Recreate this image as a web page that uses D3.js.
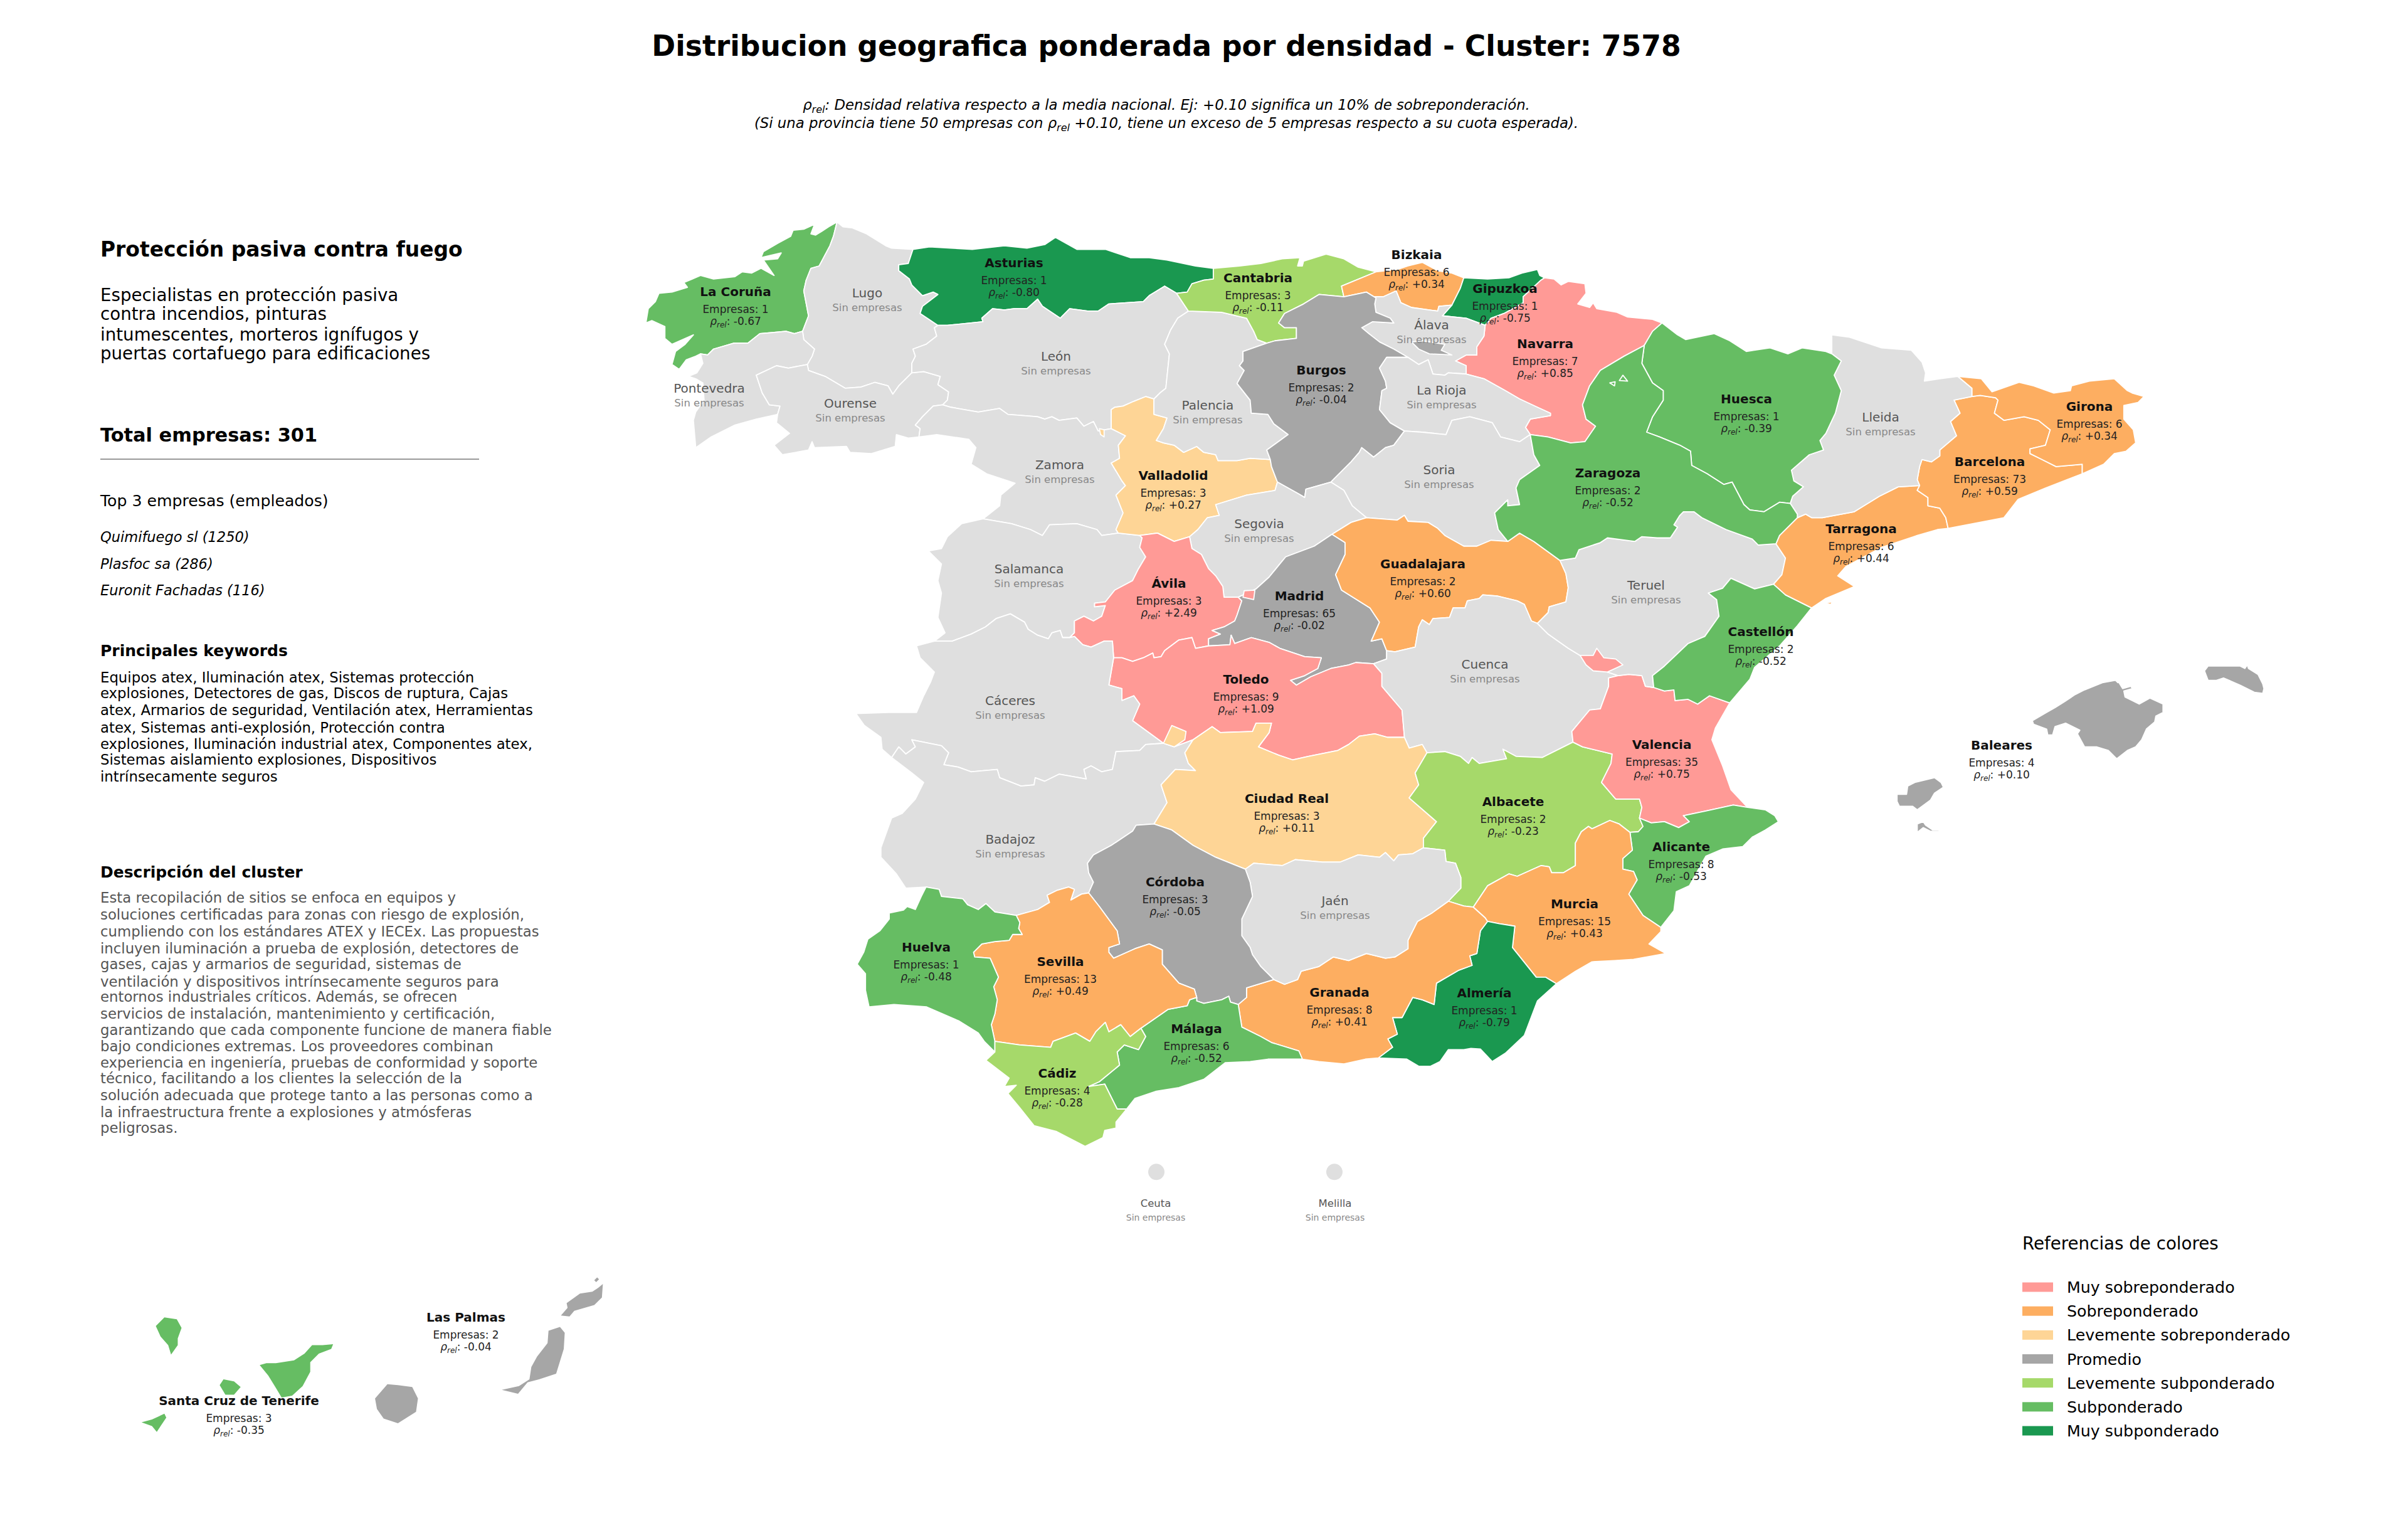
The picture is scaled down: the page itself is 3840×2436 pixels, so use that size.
<!DOCTYPE html>
<html>
<head>
<meta charset="utf-8">
<script src="https://cdn.jsdelivr.net/npm/d3@7"></script>
<style>
  body { margin: 0; background: #fff; }
  text { font-family: "DejaVu Sans", sans-serif; }
</style>
</head>
<body>
<svg id="chart" width="3840" height="2436"></svg>
<script>
// Province table
const provinces = ["La Coruña","Lugo","Pontevedra","Ourense","Asturias","León","Zamora","Salamanca","Valladolid","Palencia","Cantabria","Bizkaia","Gipuzkoa","Navarra","Álava","Burgos","La Rioja","Soria","Segovia","Ávila","Madrid","Toledo","Guadalajara","Cuenca","Cáceres","Badajoz","Ciudad Real","Albacete","Valencia","Teruel","Castellón","Tarragona","Barcelona","Girona","Lleida","Huesca","Zaragoza","Alicante","Murcia","Almería","Granada","Jaén","Córdoba","Málaga","Sevilla","Huelva","Cádiz","Baleares","Las Palmas","Santa Cruz de Tenerife","Ceuta","Melilla"];
const empresas = [1,null,null,null,1,null,null,null,3,null,3,6,1,7,null,2,null,null,null,3,65,9,2,null,null,null,3,2,35,null,2,6,73,6,null,1,2,8,15,1,8,null,3,6,13,1,4,4,2,3,null,null];
const rhoRel = [-0.67,null,null,null,-0.80,null,null,null,0.27,null,-0.11,0.34,-0.75,0.85,null,-0.04,null,null,null,2.49,-0.02,1.09,0.60,null,null,null,0.11,-0.23,0.75,null,-0.52,0.44,0.59,0.34,null,-0.39,-0.52,-0.53,0.43,-0.79,0.41,null,-0.05,-0.52,0.49,-0.48,-0.28,0.10,-0.04,-0.35,null,null];

// Legend
const legendLabels = ["Muy sobreponderado","Sobreponderado","Levemente sobreponderado","Promedio","Levemente subponderado","Subponderado","Muy subponderado"];
const legendColors = ["#ff9a96","#fdae61","#fed596","#a6a6a6","#a6d96a","#66bd63","#1a9850"];
const rhoBreaks = [-0.7,-0.3,-0.1,0.105,0.3,0.7];

// Side panel text
const topCompanies = ["Quimifuego sl (1250)","Plasfoc sa (286)","Euronit Fachadas (116)"];
const blurbLines = ["Especialistas en protección pasiva","contra incendios, pinturas","intumescentes, morteros ignífugos y","puertas cortafuego para edificaciones"];
const keywordLines = ["Equipos atex, Iluminación atex, Sistemas protección","explosiones, Detectores de gas, Discos de ruptura, Cajas","atex, Armarios de seguridad, Ventilación atex, Herramientas","atex, Sistemas anti-explosión, Protección contra","explosiones, Iluminación industrial atex, Componentes atex,","Sistemas aislamiento explosiones, Dispositivos","intrínsecamente seguros"];
const descriptionLines = ["Esta recopilación de sitios se enfoca en equipos y","soluciones certificadas para zonas con riesgo de explosión,","cumpliendo con los estándares ATEX y IECEx. Las propuestas","incluyen iluminación a prueba de explosión, detectores de","gases, cajas y armarios de seguridad, sistemas de","ventilación y dispositivos intrínsecamente seguros para","entornos industriales críticos. Además, se ofrecen","servicios de instalación, mantenimiento y certificación,","garantizando que cada componente funcione de manera fiable","bajo condiciones extremas. Los proveedores combinan","experiencia en ingeniería, pruebas de conformidad y soporte","técnico, facilitando a los clientes la selección de la","solución adecuada que protege tanto a las personas como a","la infraestructura frente a explosiones y atmósferas","peligrosas."];

// Shared province borders, lon/lat. Each one runs between two junctions.
const arcs = {
  coCoast: [[-7.69,43.79],[-7.76,43.75],[-7.82,43.71],[-7.87,43.68],[-7.91,43.69],[-7.88,43.77],[-7.97,43.73],[-8.06,43.72],[-8.08,43.67],[-8.19,43.61],[-8.31,43.54],[-8.33,43.49],[-8.16,43.53],[-8.19,43.48],[-8.31,43.47],[-8.22,43.34],[-8.33,43.40],[-8.41,43.36],[-8.49,43.37],[-8.55,43.33],[-8.73,43.31],[-8.84,43.34],[-8.91,43.31],[-8.98,43.28],[-8.95,43.24],[-9.08,43.20],[-9.19,43.19],[-9.22,43.12],[-9.28,43.06],[-9.30,42.94],[-9.25,42.96],[-9.14,42.91],[-9.14,42.81],[-9.08,42.76],[-8.90,42.84],[-8.97,42.76],[-9.05,42.70],[-9.08,42.59],[-9.02,42.55],[-8.96,42.63],[-8.88,42.66],[-8.84,42.68]],
  coPo: [[-8.84,42.68],[-8.78,42.67],[-8.73,42.72],[-8.56,42.77],[-8.44,42.77],[-8.34,42.85],[-8.22,42.86],[-8.12,42.87],[-8.05,42.85],[-7.98,42.87]],
  coLu: [[-7.98,42.87],[-7.93,43.00],[-7.97,43.21],[-7.95,43.30],[-7.91,43.40],[-7.84,43.42],[-7.75,43.59],[-7.72,43.67],[-7.69,43.79]],
  luCoast: [[-7.69,43.79],[-7.64,43.75],[-7.56,43.74],[-7.44,43.69],[-7.28,43.59],[-7.23,43.57],[-7.05,43.56]],
  luAs: [[-7.05,43.56],[-7.09,43.44],[-7.17,43.43],[-7.17,43.38],[-7.08,43.31],[-7.06,43.26],[-6.97,43.17],[-6.88,43.20],[-6.84,43.18],[-6.97,43.08],[-6.99,43.02],[-6.84,42.92]],
  luLe: [[-6.84,42.92],[-6.87,42.90],[-6.85,42.83],[-6.94,42.76],[-7.05,42.72],[-7.03,42.66],[-7.06,42.60],[-7.06,42.52]],
  luOu: [[-7.06,42.52],[-7.17,42.41],[-7.22,42.34],[-7.26,42.41],[-7.37,42.44],[-7.49,42.40],[-7.62,42.39],[-7.79,42.49],[-7.93,42.54],[-7.94,42.59]],
  luPo: [[-7.94,42.59],[-7.90,42.66],[-7.88,42.72],[-7.97,42.80],[-7.98,42.87]],
  poCoast: [[-8.84,42.68],[-8.82,42.60],[-8.87,42.52],[-8.94,42.49],[-8.88,42.47],[-8.82,42.435],[-8.81,42.29],[-8.88,42.19],[-8.90,42.12],[-8.88,41.89]],
  poSouth: [[-8.88,41.89],[-8.75,41.98],[-8.55,42.08],[-8.37,42.13],[-8.19,42.17]],
  poOu: [[-8.19,42.17],[-8.17,42.24],[-8.26,42.25],[-8.32,42.35],[-8.37,42.50],[-8.20,42.58],[-8.10,42.56],[-7.94,42.59]],
  ouSouth: [[-8.19,42.17],[-8.20,42.10],[-8.09,42.01],[-8.22,41.91],[-8.15,41.83],[-7.93,41.87],[-7.90,41.94],[-7.88,41.89],[-7.61,41.90],[-7.58,41.85],[-7.40,41.84],[-7.20,41.90],[-7.19,42.00],[-7.09,41.97],[-7.00,41.98]],
  ouLe: [[-7.06,42.52],[-6.96,42.53],[-6.82,42.49],[-6.84,42.42],[-6.75,42.36],[-6.76,42.29],[-6.80,42.25]],
  ouZa: [[-6.80,42.25],[-6.88,42.24],[-6.97,42.15],[-7.03,42.08],[-6.99,42.05],[-7.00,41.98]],
  asCoast: [[-7.05,43.56],[-6.91,43.58],[-6.73,43.57],[-6.55,43.56],[-6.28,43.59],[-6.09,43.57],[-5.94,43.60],[-5.85,43.66],[-5.76,43.61],[-5.67,43.56],[-5.43,43.56],[-5.34,43.53],[-5.22,43.49],[-5.06,43.49],[-4.91,43.47],[-4.67,43.42],[-4.52,43.40]],
  asCa: [[-4.52,43.40],[-4.52,43.31],[-4.60,43.30],[-4.70,43.27],[-4.74,43.20],[-4.83,43.19]],
  asLe: [[-6.84,42.92],[-6.76,42.92],[-6.46,42.95],[-6.47,42.98],[-6.38,43.06],[-6.28,43.05],[-6.20,43.06],[-6.09,43.06],[-6.00,43.14],[-5.96,43.08],[-5.81,42.98],[-5.73,43.06],[-5.58,43.04],[-5.49,43.04],[-5.40,43.10],[-5.11,43.12],[-5.06,43.17],[-4.93,43.25],[-4.83,43.19]],
  leCa: [[-4.83,43.19],[-4.73,43.04]],
  lePa: [[-4.73,43.04],[-4.82,42.98],[-4.88,42.88],[-4.93,42.76],[-4.89,42.68],[-4.92,42.39],[-4.97,42.35],[-5.02,42.30]],
  leVa: [[-5.02,42.30],[-5.09,42.32],[-5.19,42.28],[-5.28,42.24],[-5.35,42.23],[-5.38,42.21],[-5.38,42.05]],
  leZa: [[-6.80,42.25],[-6.73,42.23],[-6.50,42.19],[-6.32,42.22],[-6.25,42.17],[-6.00,42.15],[-5.94,42.13],[-5.88,42.15],[-5.82,42.12],[-5.67,42.14],[-5.61,42.07],[-5.53,42.11],[-5.49,42.03],[-5.38,42.05]],
  zaWest: [[-7.00,41.98],[-6.85,42.00],[-6.58,41.96],[-6.52,41.89],[-6.56,41.75],[-6.43,41.67],[-6.19,41.59],[-6.31,41.49],[-6.32,41.40],[-6.46,41.29]],
  zaSa: [[-6.46,41.29],[-6.22,41.25],[-6.06,41.20],[-5.96,41.15],[-5.90,41.24],[-5.67,41.25],[-5.50,41.20],[-5.46,41.15],[-5.32,41.17]],
  zaVa: [[-5.38,42.05],[-5.26,41.99],[-5.32,41.91],[-5.31,41.80],[-5.38,41.76],[-5.29,41.61],[-5.26,41.57],[-5.34,41.49],[-5.28,41.34],[-5.34,41.20],[-5.32,41.17]],
  saVa: [[-5.32,41.17],[-5.14,41.15]],
  saWest: [[-6.46,41.29],[-6.64,41.25],[-6.76,41.14],[-6.81,41.04],[-6.92,41.02],[-6.81,40.91],[-6.84,40.77],[-6.81,40.665],[-6.84,40.46],[-6.78,40.33],[-6.87,40.26]],
  saCc: [[-6.87,40.26],[-6.72,40.26],[-6.56,40.32],[-6.44,40.38],[-6.35,40.45],[-6.23,40.49],[-6.11,40.42],[-6.08,40.36],[-6.00,40.31],[-5.91,40.28],[-5.88,40.33],[-5.81,40.35],[-5.79,40.29],[-5.73,40.29]],
  saAv: [[-5.73,40.29],[-5.69,40.33],[-5.69,40.43],[-5.61,40.47],[-5.53,40.43],[-5.46,40.47],[-5.43,40.56],[-5.52,40.55],[-5.52,40.58],[-5.43,40.59],[-5.35,40.69],[-5.20,40.77],[-5.15,40.87],[-5.09,40.97],[-5.14,41.05],[-5.12,41.13],[-5.14,41.15]],
  avVa: [[-5.14,41.15],[-4.99,41.17],[-4.85,41.10],[-4.72,41.14]],
  vaPa: [[-5.02,42.30],[-5.02,42.17],[-4.91,42.14],[-4.94,42.05],[-5.00,41.95],[-4.94,41.93],[-4.85,41.91],[-4.77,41.85],[-4.66,41.90],[-4.60,41.85],[-4.50,41.83],[-4.48,41.78],[-4.32,41.78],[-4.21,41.80],[-4.04,41.79]],
  vaBu: [[-4.04,41.79],[-4.03,41.73],[-3.98,41.60]],
  vaSg: [[-3.98,41.60],[-4.00,41.53],[-4.24,41.49],[-4.50,41.41],[-4.47,41.32],[-4.57,41.30],[-4.65,41.20],[-4.72,41.14]],
  paBu: [[-4.07,42.77],[-4.27,42.70],[-4.27,42.62],[-4.30,42.58],[-4.26,42.54],[-4.32,42.43],[-4.21,42.29],[-4.20,42.18],[-4.06,42.17],[-4.01,42.09],[-3.89,42.00],[-4.07,41.87],[-4.04,41.79]],
  paCa: [[-4.73,43.04],[-4.45,43.03],[-4.24,42.98],[-4.18,42.87],[-4.15,42.80],[-4.07,42.77]],
  caCoast: [[-4.52,43.40],[-4.30,43.42],[-4.12,43.44],[-3.94,43.48],[-3.79,43.49],[-3.81,43.42],[-3.77,43.42],[-3.76,43.46],[-3.57,43.52],[-3.42,43.48],[-3.30,43.41],[-3.15,43.37]],
  caBi: [[-3.15,43.37],[-3.44,43.25],[-3.42,43.16]],
  caBu: [[-3.42,43.16],[-3.63,43.18],[-3.76,43.10],[-3.92,43.02],[-3.97,42.94],[-3.92,42.90],[-3.82,42.90],[-3.82,42.81],[-4.00,42.79],[-4.07,42.77]],
  biBu: [[-3.42,43.16],[-3.23,43.20]],
  biAl: [[-3.23,43.20],[-3.17,43.16],[-3.09,43.16],[-2.98,43.21],[-2.94,43.11],[-2.85,43.07],[-2.63,43.04],[-2.62,43.08],[-2.51,43.09]],
  biCoast: [[-3.15,43.37],[-2.97,43.39],[-2.88,43.42],[-2.76,43.45],[-2.63,43.38],[-2.51,43.36],[-2.41,43.32]],
  biGi: [[-2.41,43.32],[-2.44,43.23],[-2.51,43.09]],
  giCoast: [[-2.41,43.32],[-2.21,43.31],[-2.03,43.32],[-1.92,43.36],[-1.79,43.39],[-1.77,43.34],[-1.73,43.32]],
  giNa: [[-1.73,43.32],[-1.76,43.30],[-1.91,43.16],[-1.91,43.11],[-2.07,43.02],[-2.18,42.98],[-2.23,42.92]],
  giAl: [[-2.51,43.09],[-2.59,43.00],[-2.39,42.98],[-2.23,42.92]],
  naNorth: [[-1.73,43.32],[-1.65,43.31],[-1.59,43.26],[-1.53,43.29],[-1.39,43.27],[-1.38,43.19],[-1.45,43.10],[-1.35,43.07],[-1.32,43.11],[-1.29,43.06],[-1.12,43.03],[-1.03,42.99],[-0.82,42.97],[-0.74,42.94]],
  naAl: [[-2.23,42.92],[-2.24,42.83],[-2.30,42.74],[-2.30,42.67],[-2.39,42.67],[-2.48,42.62],[-2.39,42.58],[-2.39,42.51]],
  naRi: [[-2.39,42.51],[-2.24,42.47],[-2.06,42.37],[-1.94,42.30],[-1.79,42.23],[-1.68,42.18],[-1.68,42.16],[-1.85,42.13],[-1.89,42.06],[-1.85,42.00]],
  naZg: [[-1.85,42.00],[-1.70,41.98],[-1.51,41.93],[-1.39,41.94],[-1.30,42.07],[-1.38,42.13],[-1.41,42.25],[-1.35,42.41],[-1.26,42.54],[-1.06,42.66],[-0.89,42.75]],
  naHu: [[-0.89,42.75],[-0.82,42.87],[-0.74,42.94]],
  alBu: [[-3.23,43.20],[-3.15,43.15],[-3.16,43.10],[-3.15,43.03],[-3.03,42.98],[-3.00,42.94],[-3.18,42.95],[-3.27,42.90],[-3.21,42.85],[-3.12,42.78],[-3.00,42.72],[-2.88,42.65]],
  alRi: [[-2.88,42.65],[-2.79,42.59],[-2.71,42.63],[-2.67,42.51],[-2.57,42.50],[-2.54,42.52],[-2.39,42.51]],
  buRi: [[-2.91,42.03],[-3.03,42.10],[-3.12,42.21],[-3.10,42.37],[-3.06,42.39],[-3.07,42.45],[-3.12,42.56],[-3.06,42.65],[-2.88,42.65]],
  buSo: [[-3.53,41.60],[-3.36,41.77],[-3.29,41.85],[-3.27,41.89],[-3.17,41.81],[-3.07,41.89],[-3.00,41.91],[-2.91,42.03]],
  buSg: [[-3.98,41.60],[-3.80,41.50],[-3.75,41.47],[-3.74,41.54],[-3.53,41.60]],
  riSo: [[-2.91,42.03],[-2.76,42.02],[-2.56,42.00],[-2.51,42.12],[-2.36,42.15],[-2.17,42.10],[-2.10,41.98],[-1.94,41.94],[-1.85,42.00]],
  soZg: [[-1.85,42.00],[-1.82,41.83],[-1.77,41.74],[-1.94,41.62],[-1.97,41.55],[-1.94,41.41],[-2.04,41.40],[-2.04,41.45],[-2.15,41.34],[-2.12,41.20],[-2.04,41.10]],
  soGu: [[-2.04,41.10],[-2.18,41.11],[-2.30,41.06],[-2.41,41.06],[-2.57,41.15],[-2.63,41.21],[-2.71,41.26],[-2.88,41.27],[-2.91,41.32],[-2.97,41.28],[-3.23,41.30]],
  soSg: [[-3.23,41.30],[-3.35,41.40],[-3.42,41.53],[-3.53,41.60]],
  sgGu: [[-3.23,41.30],[-3.36,41.26],[-3.52,41.16]],
  sgMa: [[-3.52,41.16],[-3.67,41.06],[-3.91,40.97],[-3.96,40.91],[-4.05,40.80],[-4.16,40.70],[-4.31,40.63]],
  sgAv: [[-4.72,41.14],[-4.70,41.04],[-4.62,40.99],[-4.56,40.87],[-4.50,40.81],[-4.44,40.72],[-4.43,40.63],[-4.31,40.63]],
  avMa: [[-4.31,40.63],[-4.28,40.60],[-4.32,40.48],[-4.34,40.43],[-4.43,40.38],[-4.53,40.35],[-4.46,40.32],[-4.56,40.28],[-4.56,40.22]],
  avTo: [[-4.56,40.22],[-4.67,40.20],[-4.70,40.29],[-4.81,40.27],[-4.93,40.18],[-4.96,40.13],[-5.02,40.12],[-5.03,40.16],[-5.11,40.12],[-5.20,40.09],[-5.29,40.12],[-5.36,40.12]],
  avCc: [[-5.36,40.12],[-5.37,40.26],[-5.44,40.26],[-5.55,40.21],[-5.62,40.23],[-5.69,40.30],[-5.73,40.29]],
  toMa: [[-4.56,40.22],[-4.38,40.23],[-4.37,40.31],[-4.34,40.24],[-4.20,40.29],[-4.05,40.25],[-3.96,40.20],[-3.75,40.13],[-3.61,40.12],[-3.64,40.03],[-3.75,39.97],[-3.87,39.93],[-3.82,39.89],[-3.70,39.96],[-3.53,40.03],[-3.38,40.06],[-3.32,40.08],[-3.17,40.07]],
  maGu: [[-3.52,41.16],[-3.41,41.09],[-3.41,40.99],[-3.49,40.82],[-3.44,40.69],[-3.20,40.54],[-3.12,40.42],[-3.19,40.26],[-3.10,40.28],[-3.06,40.18]],
  maCu: [[-3.06,40.18],[-3.06,40.11],[-3.17,40.07]],
  cuTo: [[-3.17,40.07],[-3.10,39.99],[-3.10,39.88],[-2.93,39.68],[-2.91,39.45]],
  toCr: [[-2.91,39.45],[-3.05,39.45],[-3.16,39.48],[-3.29,39.46],[-3.38,39.39],[-3.47,39.34],[-3.72,39.29],[-3.85,39.26],[-3.97,39.30],[-4.14,39.37],[-4.05,39.49],[-4.03,39.57],[-4.16,39.57],[-4.19,39.50],[-4.46,39.49],[-4.53,39.54],[-4.69,39.43]],
  toCc: [[-5.36,40.12],[-5.40,39.89],[-5.29,39.86],[-5.29,39.76],[-5.19,39.80],[-5.14,39.73],[-5.20,39.59],[-4.94,39.40]],
  toBa: [[-4.94,39.40],[-4.85,39.37],[-4.69,39.43]],
  ccBa: [[-4.94,39.40],[-5.09,39.39],[-5.14,39.34],[-5.34,39.33],[-5.37,39.18],[-5.46,39.16],[-5.55,39.21],[-5.61,39.18],[-5.59,39.10],[-5.82,39.14],[-5.94,39.08],[-6.02,39.11],[-6.03,39.05],[-6.14,39.04],[-6.32,39.11],[-6.34,39.18],[-6.56,39.16],[-6.67,39.20],[-6.79,39.22],[-6.75,39.32],[-6.81,39.38],[-7.06,39.43],[-7.03,39.37],[-7.11,39.31],[-7.17,39.37],[-7.23,39.28]],
  ccWest: [[-6.87,40.26],[-7.02,40.22],[-6.99,40.12],[-6.87,40.00],[-6.90,39.92],[-6.96,39.80],[-7.02,39.66],[-7.26,39.66],[-7.53,39.65],[-7.46,39.55],[-7.32,39.45],[-7.31,39.35],[-7.23,39.28]],
  baWest: [[-7.23,39.28],[-7.06,39.15],[-6.96,39.07],[-7.03,38.93],[-7.14,38.81],[-7.23,38.77],[-7.32,38.52],[-7.32,38.44],[-7.19,38.30],[-7.11,38.18],[-6.94,38.19]],
  huBa: [[-6.94,38.19],[-6.83,38.17],[-6.81,38.11],[-6.63,38.09],[-6.59,38.04],[-6.50,38.00],[-6.435,38.05],[-6.36,37.98],[-6.18,37.95]],
  baSe: [[-6.18,37.95],[-6.00,38.00],[-5.90,38.06],[-5.92,38.12],[-5.84,38.16],[-5.74,38.19],[-5.69,38.17],[-5.72,38.08],[-5.63,38.13],[-5.57,38.14]],
  baCo: [[-5.57,38.14],[-5.53,38.23],[-5.57,38.31],[-5.58,38.39],[-5.53,38.46],[-5.38,38.54],[-5.20,38.66],[-5.17,38.71],[-5.02,38.72]],
  baCr: [[-4.69,39.43],[-4.76,39.32],[-4.73,39.23],[-4.67,39.17],[-4.84,39.18],[-4.96,39.05],[-4.91,38.90],[-5.02,38.72]],
  crCo: [[-5.02,38.72],[-4.87,38.67],[-4.69,38.54],[-4.50,38.44],[-4.25,38.34]],
  crJa: [[-4.25,38.34],[-4.18,38.39],[-3.94,38.37],[-3.83,38.42],[-3.60,38.40],[-3.45,38.40],[-3.30,38.46],[-3.12,38.44],[-3.07,38.48],[-3.00,38.41],[-2.96,38.46],[-2.84,38.47],[-2.75,38.52]],
  crAb: [[-2.75,38.52],[-2.75,38.60],[-2.64,38.74],[-2.87,38.94],[-2.79,39.05],[-2.82,39.15],[-2.72,39.32]],
  crCu: [[-2.91,39.45],[-2.87,39.36],[-2.76,39.39],[-2.72,39.32]],
  cuAb: [[-2.72,39.32],[-2.57,39.33],[-2.44,39.29],[-2.37,39.23],[-2.34,39.28],[-2.28,39.23],[-2.05,39.27],[-2.08,39.35],[-1.97,39.29],[-1.75,39.28],[-1.49,39.41]],
  cuVc: [[-1.49,39.41],[-1.50,39.50],[-1.35,39.68],[-1.26,39.69],[-1.19,39.88],[-1.19,39.95],[-1.11,39.97]],
  cuTe: [[-1.11,39.97],[-1.26,40.02],[-1.43,40.14],[-1.53,40.20],[-1.70,40.32],[-1.79,40.41]],
  guCu: [[-3.06,40.18],[-2.99,40.17],[-2.82,40.21],[-2.79,40.38],[-2.76,40.44],[-2.70,40.40],[-2.67,40.45],[-2.53,40.46],[-2.50,40.54],[-2.40,40.54],[-2.38,40.60],[-2.28,40.62],[-2.25,40.65],[-2.13,40.64],[-1.96,40.60],[-1.90,40.57],[-1.84,40.43],[-1.79,40.41]],
  guTe: [[-1.79,40.41],[-1.70,40.50],[-1.69,40.55],[-1.55,40.59],[-1.53,40.71],[-1.55,40.83],[-1.60,40.94]],
  guZg: [[-2.04,41.10],[-1.94,41.17],[-1.82,41.10],[-1.60,40.94]],
  teZg: [[-1.60,40.94],[-1.47,40.96],[-1.44,41.03],[-1.26,41.09],[-1.20,41.13],[-0.97,41.10],[-0.91,41.14],[-0.78,41.13],[-0.67,41.13],[-0.61,41.22],[-0.64,41.24],[-0.59,41.32],[-0.56,41.35],[-0.47,41.35],[-0.405,41.30],[-0.20,41.20],[0.02,41.12],[0.07,41.07],[0.22,41.08]],
  zgTa: [[0.22,41.08],[0.25,41.15],[0.40,41.30]],
  zgLl: [[0.40,41.30],[0.40,41.33],[0.34,41.42]],
  zgHu: [[-0.89,42.75],[-0.91,42.60],[-0.82,42.435],[-0.73,42.37],[-0.73,42.29],[-0.82,42.15],[-0.87,42.02],[-0.76,41.98],[-0.59,41.91],[-0.50,41.86],[-0.49,41.74],[-0.36,41.67],[-0.22,41.58],[-0.15,41.60],[-0.05,41.41],[0.00,41.365],[0.12,41.35],[0.25,41.43],[0.34,41.42]],
  huTop: [[-0.74,42.94],[-0.61,42.84],[-0.54,42.80],[-0.30,42.85],[-0.17,42.79],[-0.03,42.70],[0.17,42.73],[0.32,42.68],[0.44,42.73],[0.64,42.70],[0.69,42.68]],
  huLl: [[0.69,42.68],[0.77,42.62],[0.71,42.50],[0.77,42.37],[0.72,42.18],[0.64,42.01],[0.59,41.95],[0.62,41.87],[0.50,41.83],[0.35,41.70],[0.37,41.61],[0.45,41.56],[0.36,41.48],[0.34,41.42]],
  llTop: [[0.69,42.68],[0.69,42.84],[0.84,42.82],[1.11,42.73],[1.36,42.71],[1.45,42.61],[1.48,42.52],[1.47,42.45],[1.60,42.47],[1.75,42.49]],
  llGe: [[1.75,42.49],[1.87,42.39],[1.87,42.32]],
  llBa: [[1.87,42.32],[1.72,42.29],[1.77,42.18],[1.69,42.11],[1.74,41.99],[1.60,41.87],[1.60,41.82],[1.53,41.77],[1.45,41.79],[1.43,41.73],[1.41,41.62],[1.43,41.57]],
  llTa: [[1.43,41.57],[1.25,41.56],[1.09,41.48],[0.88,41.35],[0.61,41.30],[0.52,41.30],[0.47,41.33],[0.40,41.30]],
  taTe: [[0.22,41.08],[0.30,40.96],[0.27,40.82],[0.20,40.74]],
  taCs: [[0.20,40.74],[0.30,40.65],[0.52,40.54]],
  taCoast: [[0.52,40.54],[0.64,40.62],[0.88,40.72],[0.74,40.81],[0.81,40.89],[1.11,41.05],[1.41,41.15],[1.58,41.20],[1.67,41.21]],
  taBa: [[1.43,41.57],[1.41,41.53],[1.50,41.47],[1.50,41.40],[1.60,41.38],[1.65,41.30],[1.67,41.21]],
  baCoast: [[1.67,41.21],[2.14,41.30],[2.26,41.455],[2.49,41.55],[2.80,41.67]],
  baGe: [[2.80,41.67],[2.80,41.75],[2.58,41.73],[2.46,41.79],[2.36,41.84],[2.36,41.88],[2.49,41.91],[2.53,42.04],[2.43,42.12],[2.31,42.15],[2.14,42.12],[2.06,42.18],[2.09,42.29],[2.07,42.31],[1.94,42.33],[1.87,42.32]],
  geCoast: [[1.75,42.49],[1.95,42.47],[2.04,42.36],[2.27,42.44],[2.39,42.41],[2.56,42.35],[2.70,42.37],[2.71,42.41],[2.86,42.45],[3.07,42.47],[3.18,42.37],[3.22,42.35],[3.32,42.32],[3.27,42.27],[3.15,42.245],[3.15,42.13],[3.23,42.04],[3.25,41.93],[3.17,41.86],[3.07,41.84],[2.98,41.75],[2.80,41.67]],
  teCs: [[0.20,40.74],[0.04,40.70],[-0.16,40.79],[-0.23,40.705],[-0.35,40.665],[-0.28,40.61],[-0.26,40.47],[-0.38,40.30],[-0.52,40.24],[-0.72,40.05],[-0.82,39.97],[-0.81,39.87]],
  teVc: [[-1.11,39.97],[-1.02,39.98],[-0.91,39.97],[-0.88,39.88],[-0.81,39.87]],
  csVc: [[-0.81,39.87],[-0.72,39.84],[-0.64,39.85],[-0.63,39.76],[-0.52,39.77],[-0.44,39.73],[-0.34,39.80],[-0.17,39.74]],
  csCoast: [[0.52,40.54],[0.40,40.39],[0.25,40.22],[0.04,40.04],[0.00,39.94],[-0.17,39.74]],
  vcCoast: [[-0.17,39.74],[-0.29,39.53],[-0.32,39.43],[-0.23,39.21],[-0.16,39.01],[-0.02,38.86]],
  vcAl: [[-0.02,38.86],[-0.14,38.88],[-0.37,38.83],[-0.56,38.79],[-0.51,38.74],[-0.60,38.69],[-0.72,38.74],[-0.83,38.73],[-0.93,38.77]],
  vcAb: [[-1.49,39.41],[-1.41,39.37],[-1.16,39.31],[-1.17,39.23],[-1.25,39.07],[-1.13,38.93],[-0.93,38.93],[-0.91,38.86],[-0.93,38.77]],
  alAb: [[-0.93,38.77],[-0.90,38.70],[-0.94,38.655],[-1.01,38.65]],
  alCoast: [[-0.02,38.86],[0.13,38.84],[0.21,38.79],[0.24,38.74],[0.13,38.67],[0.02,38.61],[-0.06,38.53],[-0.23,38.51],[-0.37,38.45],[-0.41,38.38],[-0.51,38.20],[-0.62,38.15],[-0.64,37.99],[-0.75,37.85]],
  alMu: [[-0.75,37.85],[-0.90,37.95],[-1.02,38.13],[-0.95,38.25],[-0.98,38.32],[-1.07,38.34],[-1.07,38.43],[-0.99,38.50],[-1.01,38.65]],
  muAb: [[-1.01,38.65],[-1.10,38.72],[-1.18,38.75],[-1.33,38.68],[-1.36,38.70],[-1.42,38.655],[-1.47,38.56],[-1.47,38.37],[-1.57,38.31],[-1.67,38.31],[-1.69,38.36],[-1.76,38.37],[-1.96,38.28],[-2.03,38.30],[-2.21,38.20],[-2.33,38.02]],
  abGr: [[-2.33,38.02],[-2.41,38.03],[-2.54,38.07]],
  abJa: [[-2.54,38.07],[-2.435,38.18],[-2.435,38.27],[-2.48,38.39],[-2.56,38.405],[-2.57,38.50],[-2.75,38.52]],
  grMu: [[-2.33,38.02],[-2.23,37.93],[-2.21,37.90]],
  muAm: [[-2.21,37.90],[-2.11,37.88],[-1.98,37.86],[-2.00,37.68],[-1.80,37.43],[-1.72,37.43],[-1.63,37.375]],
  muCoast: [[-1.63,37.375],[-1.47,37.48],[-1.33,37.56],[-1.14,37.57],[-0.98,37.58],[-0.71,37.63],[-0.85,37.71],[-0.75,37.815],[-0.75,37.85]],
  amCoast: [[-1.63,37.375],[-1.79,37.23],[-1.90,36.94],[-2.06,36.79],[-2.17,36.72],[-2.27,36.825],[-2.35,36.83],[-2.41,36.82],[-2.54,36.82],[-2.61,36.72],[-2.69,36.68],[-2.79,36.68],[-2.89,36.74],[-3.13,36.75]],
  amGr: [[-3.13,36.75],[-3.01,36.84],[-3.05,36.91],[-2.97,36.95],[-3.01,37.09],[-2.93,37.09],[-2.84,37.26],[-2.76,37.24],[-2.66,37.20],[-2.64,37.38],[-2.45,37.49],[-2.34,37.53],[-2.36,37.61],[-2.30,37.63],[-2.27,37.82],[-2.21,37.90]],
  grJa: [[-2.54,38.07],[-2.68,37.97],[-2.80,37.90],[-2.88,37.74],[-2.88,37.67],[-2.99,37.60],[-3.07,37.59],[-3.23,37.63],[-3.38,37.57],[-3.51,37.60],[-3.63,37.52],[-3.78,37.48],[-3.81,37.41],[-3.92,37.37],[-4.01,37.41]],
  grCo: [[-4.01,37.41],[-4.24,37.34],[-4.24,37.26],[-4.31,37.20]],
  grMa: [[-4.31,37.20],[-4.28,37.01],[-4.12,36.93],[-4.03,36.88],[-3.80,36.81],[-3.77,36.74]],
  grCoast: [[-3.77,36.74],[-3.63,36.72],[-3.42,36.70],[-3.24,36.74],[-3.13,36.75]],
  jaCo: [[-4.01,37.41],[-4.12,37.52],[-4.19,37.62],[-4.21,37.68],[-4.28,37.78],[-4.28,37.92],[-4.19,38.11],[-4.21,38.23],[-4.25,38.34]],
  maCo: [[-4.31,37.20],[-4.375,37.22],[-4.39,37.27],[-4.45,37.24],[-4.60,37.21],[-4.66,37.23],[-4.66,37.26]],
  seCo: [[-5.57,38.14],[-5.48,38.025],[-5.33,37.82],[-5.31,37.71],[-5.40,37.68],[-5.40,37.64],[-5.36,37.59],[-5.18,37.67],[-5.12,37.69],[-5.06,37.71],[-4.95,37.66],[-4.95,37.54],[-4.81,37.38],[-4.68,37.33],[-4.66,37.26]],
  seMa: [[-4.66,37.26],[-4.72,37.24],[-4.74,37.19],[-4.90,37.16],[-5.13,37.00]],
  seCa: [[-5.13,37.00],[-5.22,36.93],[-5.30,37.03],[-5.40,36.97],[-5.43,37.05],[-5.51,36.97],[-5.56,36.89],[-5.68,36.96],[-5.87,36.89],[-5.89,36.84],[-6.15,36.86],[-6.36,36.89]],
  seHu: [[-6.36,36.89],[-6.39,37.03],[-6.36,37.12],[-6.34,37.24],[-6.37,37.35],[-6.33,37.43],[-6.40,37.59],[-6.53,37.60],[-6.54,37.64],[-6.47,37.71],[-6.36,37.73],[-6.24,37.74],[-6.21,37.79],[-6.13,37.79],[-6.16,37.84],[-6.15,37.89],[-6.18,37.95]],
  huWest: [[-6.94,38.19],[-6.98,38.11],[-7.03,38.00],[-7.10,38.025],[-7.13,37.995],[-7.25,37.97],[-7.25,37.92],[-7.33,37.82],[-7.43,37.75],[-7.465,37.64],[-7.52,37.54],[-7.45,37.46],[-7.45,37.32],[-7.42,37.18]],
  huCoast: [[-7.42,37.18],[-7.21,37.20],[-6.935,37.18],[-6.66,37.06],[-6.50,36.96],[-6.45,36.89],[-6.36,36.80]],
  huCa: [[-6.36,36.89],[-6.36,36.80]],
  cadCoast: [[-6.36,36.80],[-6.435,36.73],[-6.24,36.58],[-6.28,36.51],[-6.18,36.52],[-6.25,36.45],[-6.15,36.33],[-6.03,36.18],[-5.84,36.13],[-5.60,36.005],[-5.45,36.08],[-5.435,36.14],[-5.34,36.16],[-5.34,36.21],[-5.25,36.32]],
  caMa: [[-5.13,37.00],[-5.09,36.93],[-5.15,36.82],[-5.27,36.86],[-5.33,36.80],[-5.31,36.69],[-5.48,36.55],[-5.57,36.51],[-5.435,36.53],[-5.33,36.32],[-5.25,36.32]],
  maCoast: [[-5.25,36.32],[-5.18,36.41],[-5.00,36.47],[-4.81,36.50],[-4.60,36.57],[-4.42,36.71],[-4.21,36.72],[-4.06,36.74],[-3.77,36.74]]
};

// Which borders close each province ("-" walks the border backwards)
const provinceBorders = {
  "La Coruña": "coCoast coPo coLu",
  "Lugo": "luCoast luAs luLe luOu luPo coLu",
  "Pontevedra": "poCoast poSouth poOu luPo -coPo",
  "Ourense": "ouSouth -ouZa -ouLe luOu -poOu",
  "Asturias": "asCoast asCa -asLe -luAs",
  "León": "asLe leCa lePa leVa -leZa -ouLe -luLe",
  "Zamora": "leZa zaVa -zaSa -zaWest -ouZa",
  "Salamanca": "zaSa saVa -saAv -saCc -saWest",
  "Valladolid": "vaPa vaBu vaSg -avVa -saVa -zaVa -leVa",
  "Palencia": "lePa vaPa -paBu -paCa",
  "Cantabria": "caCoast caBi caBu -paCa -leCa -asCa",
  "Bizkaia": "biCoast biGi -biAl -biBu -caBi",
  "Gipuzkoa": "giCoast giNa -giAl -biGi",
  "Navarra": "naNorth -naHu -naZg -naRi -naAl -giNa",
  "Álava": "biAl giAl naAl -alRi -alBu",
  "Burgos": "caBu paBu vaBu buSg buSo buRi -alBu -biBu",
  "La Rioja": "buRi alRi naRi -riSo",
  "Soria": "riSo soZg soGu soSg buSo",
  "Segovia": "vaSg sgAv -sgMa -sgGu soSg -buSg",
  "Ávila": "avVa sgAv avMa avTo avCc saAv",
  "Madrid": "sgMa avMa toMa -maCu -maGu",
  "Toledo": "toMa cuTo toCr -toBa -toCc -avTo",
  "Guadalajara": "sgGu maGu guCu guTe -guZg soGu",
  "Cuenca": "maCu cuTo crCu cuAb cuVc cuTe -guCu",
  "Cáceres": "saCc -avCc toCc ccBa -ccWest",
  "Badajoz": "-ccBa toBa baCr -baCo -baSe -huBa -baWest",
  "Ciudad Real": "-toCr crCu -crAb -crJa -crCo -baCr",
  "Albacete": "cuAb vcAb alAb muAb abGr abJa crAb",
  "Valencia": "cuVc teVc csVc vcCoast vcAl -vcAb",
  "Teruel": "guTe teZg taTe teCs -teVc cuTe",
  "Castellón": "taCs csCoast -csVc -teCs",
  "Tarragona": "llTa -zgTa taTe taCs taCoast -taBa",
  "Barcelona": "-llBa -baGe -baCoast -taBa",
  "Girona": "geCoast baGe -llGe",
  "Lleida": "llTop llGe llBa llTa zgLl -huLl",
  "Huesca": "huTop huLl -zgHu naHu",
  "Zaragoza": "naZg zgHu -zgLl -zgTa -teZg -guZg -soZg",
  "Alicante": "alCoast alMu -alAb -vcAl",
  "Murcia": "muAb grMu muAm muCoast alMu",
  "Almería": "muAm amCoast amGr",
  "Granada": "abGr grJa grCo grMa grCoast amGr -grMu",
  "Jaén": "-crJa -jaCo -grJa abJa",
  "Córdoba": "crCo -jaCo grCo maCo -seCo baCo",
  "Málaga": "-maCo grMa -maCoast -caMa -seMa",
  "Sevilla": "baSe seCo seMa seCa seHu",
  "Huelva": "huBa -seHu huCa -huCoast -huWest",
  "Cádiz": "-seCa caMa -cadCoast -huCa"
};

// Enclaves and small islets, painted over their neighbours
const enclaves = {
  "Burgos": [[[-2.85,42.78],[-2.76,42.79],[-2.57,42.76],[-2.60,42.71],[-2.51,42.67],[-2.70,42.68],[-2.79,42.72]]],
  "Ciudad Real": [[[-4.94,39.40],[-4.87,39.55],[-4.75,39.50],[-4.76,39.43],[-4.85,39.37]]],
  "Valencia": [[[-1.43,40.14],[-1.32,40.14],[-1.29,40.20],[-1.23,40.12],[-1.13,40.11],[-1.07,40.06],[-1.20,40.00],[-1.32,40.01],[-1.38,40.06]]],
  "Valladolid": [[[-5.48,42.05],[-5.44,42.04],[-5.44,41.98],[-5.47,42.00]]],
  "Huesca": [[[-1.10,42.455],[-1.07,42.50],[-1.03,42.45]],[[-1.18,42.435],[-1.135,42.445],[-1.14,42.41]]],
  "Ávila": [[[-4.26,40.685],[-4.17,40.69],[-4.18,40.61],[-4.27,40.63]]],
  "Tarragona": [[[0.64,40.58],[0.70,40.595],[0.68,40.57]]]
};

// Islands
const balearIslands = [
  [[2.38,39.59],[2.50,39.66],[2.57,39.70],[2.65,39.75],[2.74,39.81],[2.82,39.85],[2.97,39.91],[3.08,39.93],[3.10,39.91],[3.21,39.95],[3.11,39.91],[3.14,39.86],[3.21,39.88],[3.22,39.86],[3.15,39.84],[3.16,39.79],[3.28,39.73],[3.37,39.78],[3.48,39.73],[3.48,39.66],[3.42,39.63],[3.41,39.58],[3.34,39.52],[3.30,39.43],[3.25,39.37],[3.18,39.34],[3.09,39.27],[3.02,39.34],[2.92,39.37],[2.82,39.37],[2.76,39.48],[2.78,39.51],[2.66,39.57],[2.57,39.54],[2.55,39.47],[2.51,39.47],[2.50,39.52],[2.39,39.56]],
  [[3.83,40.01],[3.86,40.05],[3.96,40.05],[4.13,40.05],[4.17,40.03],[4.19,40.06],[4.20,40.03],[4.28,39.98],[4.32,39.90],[4.33,39.86],[4.32,39.82],[4.25,39.83],[4.13,39.89],[3.99,39.95],[3.93,39.93],[3.86,39.93]],
  [[1.24,38.97],[1.32,38.97],[1.33,39.04],[1.39,39.07],[1.555,39.11],[1.61,39.07],[1.63,39.03],[1.555,38.98],[1.52,38.92],[1.41,38.84],[1.37,38.87],[1.26,38.87],[1.24,38.91]],
  [[1.41,38.72],[1.46,38.74],[1.48,38.71],[1.54,38.67],[1.60,38.67],[1.59,38.66],[1.52,38.66],[1.46,38.69],[1.41,38.65]],
  [[2.95,39.14],[2.98,39.14],[2.97,39.13]]
];
const tenerifeIslands = [
  [[-18.01,28.75],[-17.92,28.84],[-17.79,28.82],[-17.74,28.73],[-17.78,28.62],[-17.78,28.55],[-17.85,28.45],[-17.88,28.55],[-17.96,28.64]],
  [[-18.16,27.74],[-18.05,27.77],[-17.92,27.83],[-17.90,27.79],[-17.96,27.70],[-18.00,27.64],[-18.05,27.70]],
  [[-17.34,28.13],[-17.30,28.19],[-17.19,28.17],[-17.12,28.11],[-17.19,28.03],[-17.28,28.03]],
  [[-16.92,28.34],[-16.85,28.36],[-16.75,28.36],[-16.56,28.39],[-16.45,28.46],[-16.37,28.55],[-16.26,28.55],[-16.15,28.56],[-16.17,28.51],[-16.30,28.46],[-16.39,28.37],[-16.39,28.27],[-16.47,28.12],[-16.58,28.02],[-16.69,28.00],[-16.75,28.10],[-16.83,28.23]]
];
const palmasIslands = [
  [[-15.71,27.99],[-15.58,28.14],[-15.47,28.13],[-15.32,28.11],[-15.26,27.99],[-15.28,27.85],[-15.47,27.73],[-15.62,27.78],[-15.69,27.88]],
  [[-14.38,28.08],[-14.20,28.12],[-14.09,28.19],[-14.07,28.32],[-14.01,28.43],[-13.90,28.57],[-13.89,28.70],[-13.77,28.74],[-13.72,28.68],[-13.73,28.51],[-13.81,28.25],[-13.99,28.19],[-14.11,28.16],[-14.21,28.04]],
  [[-13.76,28.86],[-13.69,28.94],[-13.70,28.99],[-13.56,29.09],[-13.43,29.11],[-13.37,29.15],[-13.32,29.19],[-13.33,29.05],[-13.41,28.97],[-13.62,28.91],[-13.67,28.85]],
  [[-13.41,29.23],[-13.38,29.26],[-13.36,29.24],[-13.39,29.21]]
];
// Ceuta and Melilla are shown as dots south of the peninsula
const cityDots = { "Ceuta": [-5.0,35.79], "Melilla": [-3.5,35.79] };

// Where each province's name sits on the page
const labelPos = {
  "La Coruña":[1173,465],"Lugo":[1383,467],"Pontevedra":[1131,619],"Ourense":[1356,643],"Asturias":[1617,419],"León":[1684,568],"Zamora":[1690,741],"Salamanca":[1641,907],"Valladolid":[1871,758],"Palencia":[1926,646],"Cantabria":[2006,443],"Bizkaia":[2259,406],"Gipuzkoa":[2400,460],"Navarra":[2464,548],"Álava":[2283,518],"Burgos":[2107,590],"La Rioja":[2299,622],"Soria":[2295,749],"Segovia":[2008,835],"Ávila":[1864,930],"Madrid":[2072,950],"Toledo":[1987,1083],"Guadalajara":[2269,899],"Cuenca":[2368,1059],"Cáceres":[1611,1117],"Badajoz":[1611,1338],"Ciudad Real":[2052,1273],"Albacete":[2413,1278],"Valencia":[2650,1187],"Teruel":[2625,933],"Castellón":[2808,1007],"Tarragona":[2968,843],"Barcelona":[3173,736],"Girona":[3332,648],"Lleida":[2999,665],"Huesca":[2785,636],"Zaragoza":[2564,754],"Alicante":[2681,1350],"Murcia":[2511,1441],"Almería":[2367,1583],"Granada":[2136,1582],"Jaén":[2129,1436],"Córdoba":[1874,1406],"Málaga":[1908,1640],"Sevilla":[1691,1533],"Huelva":[1477,1510],"Cádiz":[1686,1711],"Baleares":[3192,1188],"Las Palmas":[743,2100],"Santa Cruz de Tenerife":[381,2233],"Ceuta":[1843,1918],"Melilla":[2129,1918]
};

var svg = d3.select("#chart");
const emptyFill = "#dfdfdf";

// Map scale: the source plots raw lon/lat, the Canaries are moved in at a smaller scale
var mainProjection = d3.geoIdentity().reflectY(true).scale(189.3).translate([2790.5, 8643.4]);
var canaryProjection = d3.geoIdentity().reflectY(true).scale(152).translate([2986, 6484]);
var mainPath = d3.geoPath(mainProjection);
var canaryPath = d3.geoPath(canaryProjection);

var colorScale = d3.scaleThreshold().domain(rhoBreaks).range(legendColors.slice().reverse());

function fillOf(name) {
    var v = rhoRel[provinces.indexOf(name)];
    return v === null ? emptyFill : colorScale(v);
}

// Join the borders of one province into a closed ring
function buildRing(name) {
    var ring = [];
    provinceBorders[name].split(" ").forEach((key) => {
        var reversed = key[0] === "-";
        var line = arcs[reversed ? key.slice(1) : key];
        ring = ring.concat(reversed ? line.slice().reverse() : line);
    });
    ring.push(ring[0]);
    return ring;
}

function closeRing(points) {
    return points.concat([points[0]]);
}

function islandFeature(name, islands) {
    return {
        type: "Feature",
        properties: { name: name },
        geometry: { type: "MultiPolygon", coordinates: islands.map((ring) => [closeRing(ring)]) }
    };
}

var mainFeatures = Object.keys(provinceBorders).map((name) => ({
    type: "Feature",
    properties: { name: name },
    geometry: { type: "Polygon", coordinates: [buildRing(name)] }
}));
var enclaveFeatures = Object.keys(enclaves).map((name) => islandFeature(name, enclaves[name]));
mainFeatures = mainFeatures.concat(enclaveFeatures, [islandFeature("Baleares", balearIslands)]);
var canaryFeatures = [
    islandFeature("Santa Cruz de Tenerife", tenerifeIslands),
    islandFeature("Las Palmas", palmasIslands)
];

// Provinces
svg.append("g").selectAll("path")
    .data(mainFeatures)
    .join("path")
    .attr("d", mainPath)
    .attr("fill", (d) => fillOf(d.properties.name))
    .attr("stroke", "#fff")
    .attr("stroke-width", 1.8)
    .attr("stroke-linejoin", "round");

svg.append("g").selectAll("path")
    .data(canaryFeatures)
    .join("path")
    .attr("d", canaryPath)
    .attr("fill", (d) => fillOf(d.properties.name));

svg.append("g").selectAll("circle")
    .data(Object.keys(cityDots))
    .join("circle")
    .attr("cx", (d) => mainProjection(cityDots[d])[0])
    .attr("cy", (d) => mainProjection(cityDots[d])[1])
    .attr("r", 13)
    .attr("fill", emptyFill);

// Province labels
var labels = svg.append("g").attr("text-anchor", "middle");
provinces.forEach((name, i) => {
    var pos = labelPos[name];
    if (empresas[i] === null) {
        var small = (name === "Ceuta" || name === "Melilla");
        labels.append("text").attr("x", pos[0]).attr("y", pos[1]).attr("dy", "0.36em")
            .attr("font-size", small ? 16.5 : 20).attr("fill", "#555").text(name);
        labels.append("text").attr("x", pos[0]).attr("y", pos[1] + 23).attr("dy", "0.36em")
            .attr("font-size", small ? 14 : 16.5).attr("fill", "#888").text("Sin empresas");
        return;
    }
    labels.append("text").attr("x", pos[0]).attr("y", pos[1]).attr("dy", "0.36em")
        .attr("font-size", 20).attr("font-weight", "bold").attr("fill", "#111").text(name);
    labels.append("text").attr("x", pos[0]).attr("y", pos[1] + 28).attr("dy", "0.36em")
        .attr("font-size", 17).attr("fill", "#222").text("Empresas: " + empresas[i]);
    var rho = labels.append("text").attr("x", pos[0]).attr("y", pos[1] + 47).attr("dy", "0.36em")
        .attr("font-size", 17).attr("fill", "#222");
    rho.append("tspan").attr("font-style", "italic").text("ρ");
    rho.append("tspan").attr("font-style", "italic").attr("font-size", 12).attr("dy", 4).text("rel");
    rho.append("tspan").attr("dy", -4).text(": " + (rhoRel[i] >= 0 ? "+" : "") + rhoRel[i].toFixed(2));
});

// Title block
svg.append("text").attr("x", 1860).attr("y", 73).attr("dy", "0.36em").attr("text-anchor", "middle")
    .attr("font-size", 45.6).attr("font-weight", "bold").attr("fill", "#000")
    .text("Distribucion geografica ponderada por densidad - Cluster: 7578");

var sub1 = svg.append("text").attr("x", 1860).attr("y", 167).attr("dy", "0.36em").attr("text-anchor", "middle")
    .attr("font-size", 22.8).attr("font-style", "italic");
sub1.append("tspan").text("ρ");
sub1.append("tspan").attr("font-size", 16).attr("dy", 5).text("rel");
sub1.append("tspan").attr("dy", -5).text(": Densidad relativa respecto a la media nacional. Ej: +0.10 significa un 10% de sobreponderación.");
var sub2 = svg.append("text").attr("x", 1860).attr("y", 196).attr("dy", "0.36em").attr("text-anchor", "middle")
    .attr("font-size", 22.8).attr("font-style", "italic");
sub2.append("tspan").text("(Si una provincia tiene 50 empresas con ρ");
sub2.append("tspan").attr("font-size", 16).attr("dy", 5).text("rel");
sub2.append("tspan").attr("dy", -5).text(" +0.10, tiene un exceso de 5 empresas respecto a su cuota esperada).");

// Side panel
function panelText(y, content, size, opts) {
    opts = opts || {};
    return svg.append("text").attr("x", 160).attr("y", y).attr("dy", "0.36em")
        .attr("font-size", size)
        .attr("font-weight", opts.bold ? "bold" : "normal")
        .attr("font-style", opts.italic ? "italic" : "normal")
        .attr("fill", opts.color || "#000")
        .text(content);
}

panelText(397, "Protección pasiva contra fuego", 32.9, { bold: true });
[470, 500, 533, 563].forEach((y, i) => panelText(y, blurbLines[i], 27.7));
panelText(693, "Total empresas: " + d3.sum(empresas), 30.4, { bold: true });
svg.append("line").attr("x1", 160).attr("x2", 764).attr("y1", 732).attr("y2", 732)
    .attr("stroke", "#999").attr("stroke-width", 2);
panelText(798, "Top 3 empresas (empleados)", 25.2);
[856, 899, 941].forEach((y, i) => panelText(y, topCompanies[i], 22.5, { italic: true }));
panelText(1037, "Principales keywords", 25, { bold: true });
[1080, 1105, 1132, 1160, 1186, 1211, 1238].forEach((y, i) => panelText(y, keywordLines[i], 22.8));
panelText(1390, "Descripción del cluster", 25, { bold: true });
[1431, 1458, 1485, 1512, 1537, 1565, 1589, 1616, 1642, 1668, 1694, 1719, 1746, 1773, 1798].forEach((y, i) =>
    panelText(y, descriptionLines[i], 22.8, { color: "#555" }));

// Legend
svg.append("text").attr("x", 3225).attr("y", 1982).attr("dy", "0.36em").attr("font-size", 27.7).text("Referencias de colores");
var legendY = d3.scalePoint().domain(legendLabels).range([2052, 2281]);
var legendRows = svg.append("g").selectAll("g").data(legendLabels).join("g")
    .attr("transform", (d) => "translate(3225," + legendY(d) + ")");
legendRows.append("rect").attr("y", -7.5).attr("width", 49).attr("height", 15)
    .attr("fill", (d, i) => legendColors[i]);
legendRows.append("text").attr("x", 71).attr("dy", "0.36em").attr("font-size", 25.3).text((d) => d);
</script>
</body>
</html>
